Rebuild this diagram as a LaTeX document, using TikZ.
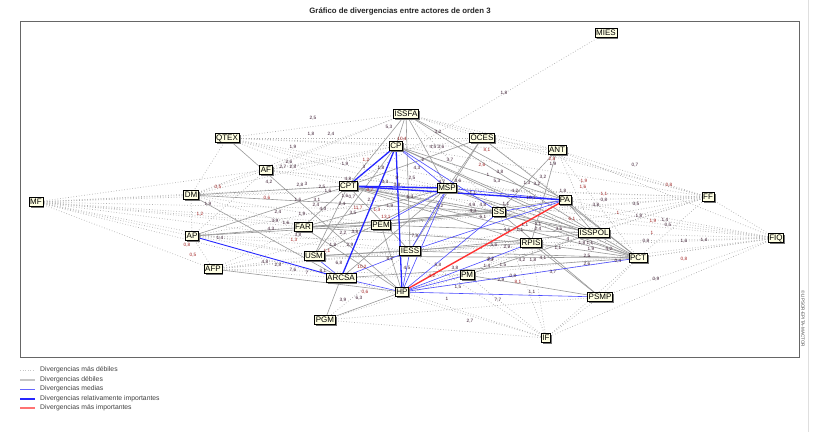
\documentclass[tikz,border=0pt]{standalone}
\usepackage{fontspec}
\setmainfont{Liberation Sans}
\usetikzlibrary{shadows}
\definecolor{nodefill}{HTML}{FFFFE4}
\definecolor{labc}{HTML}{3A1A30}
\definecolor{labr}{HTML}{A02020}
\begin{document}
\begin{tikzpicture}[x=1pt,y=-1pt,
 actor/.style={draw=black,line width=0.6pt,fill=nodefill,inner sep=1.1pt,
   font=\fontsize{8}{8}\selectfont,text height=6pt,text depth=0.6pt,
   drop shadow={shadow xshift=1.6pt,shadow yshift=-1.6pt,fill=black!55,opacity=1}},
 wk/.style={gray!62,dotted,line width=0.7pt},
 weak/.style={gray!80,line width=0.6pt},
 med/.style={blue!70,line width=0.6pt},
 rel/.style={blue!85,line width=1.3pt},
 top/.style={red!80,line width=1.4pt},
 lab/.style={font=\fontsize{4.7}{5}\selectfont,text=labc,inner sep=0pt},
 labR/.style={lab,text=labr},
 leg/.style={font=\fontsize{6.8}{7}\selectfont,text=black!75,anchor=west,inner sep=0pt}]
\newcommand\lb[3]{\node[lab] at (#1,#2) {#3};}
\newcommand\lr[3]{\node[labR] at (#1,#2) {#3};}
\useasboundingbox (0,0) rectangle (828,432);
\fill[white] (0,0) rectangle (828,432);
% title and frame
\node[font=\bfseries\fontsize{7.8}{8}\selectfont,text=black!85] (title) at (400,11) {Gráfico de divergencias entre actores de orden 3};
\draw[black!60,line width=1pt] (20,21) rectangle (799,357);
\draw[gray!25,line width=0.8pt] (808,0) -- (808,432);
\node[rotate=-90,font=\fontsize{4.6}{5}\selectfont,text=black!70] (copy) at (803,319) {©LIPSOR-EPITA-MACTOR};
% node coordinates
\path
 (606,33) coordinate (MIES) (227,138) coordinate (QTEX) (266,170) coordinate (AF)
 (191,195) coordinate (DM) (36,202) coordinate (MF) (192,236) coordinate (AP)
 (213,269) coordinate (AFP) (406,114) coordinate (ISSFA) (396,146) coordinate (CP)
 (482,138) coordinate (OCES) (557,150) coordinate (ANT) (348,186) coordinate (CPT)
 (447,188) coordinate (MSP) (499,212) coordinate (SS) (565,200) coordinate (PA)
 (708,197) coordinate (FF) (303,227) coordinate (FAR) (381,225) coordinate (PEM)
 (594,233) coordinate (ISSPOL) (531,243) coordinate (RPIS) (410,251) coordinate (IESS)
 (314,256) coordinate (USM) (638,258) coordinate (PCT) (776,238) coordinate (FIQ)
 (467,275) coordinate (PM) (341,278) coordinate (ARCSA) (402,292) coordinate (HP)
 (600,297) coordinate (PSMP) (325,320) coordinate (PGM) (546,338) coordinate (IF);
% weakest divergences
\foreach \a/\b in {MIES/CPT,
 MF/DM,MF/AP,MF/AF,MF/CPT,MF/FAR,MF/PEM,MF/USM,MF/SS,MF/IESS,MF/MSP,MF/ARCSA,MF/RPIS,MF/AFP,
 FF/ANT,FF/PA,FF/SS,FF/MSP,FF/CPT,FF/CP,FF/ISSPOL,FF/RPIS,FF/PCT,FF/IESS,FF/PEM,FF/HP,FF/ISSFA,FF/OCES,FF/FIQ,
 FIQ/PA,FIQ/ISSPOL,FIQ/PCT,FIQ/SS,FIQ/RPIS,FIQ/IESS,FIQ/HP,FIQ/PSMP,FIQ/PM,FIQ/IF,FIQ/ANT,FIQ/MSP,FIQ/CPT,
 IF/HP,IF/PM,IF/PSMP,IF/RPIS,IF/PGM,IF/ARCSA,IF/IESS,IF/PCT,IF/SS,
 QTEX/ISSFA,QTEX/CP,QTEX/OCES,QTEX/CPT,QTEX/MSP,QTEX/ANT,QTEX/DM,QTEX/PA,QTEX/SS,
 AF/ISSFA,AF/CP,AF/OCES,AF/MSP,AF/DM,AF/AP,AF/PA,AF/SS,
 DM/ISSFA,DM/CP,DM/AP,DM/MSP,DM/PEM,DM/FAR,
 AP/AFP,AP/FAR,AP/USM,AP/IESS,AP/MSP,AP/RPIS,
 AFP/ARCSA,AFP/USM,AFP/IESS,AFP/PEM,AFP/FAR,AFP/RPIS,AFP/PM,
 PGM/IESS,PGM/PM,PGM/PSMP,ISSFA/OCES,ISSFA/ANT,ISSFA/SS,
 ANT/ISSPOL,ANT/PCT,OCES/ANT,OCES/PA,PSMP/PCT,PM/RPIS,ARCSA/PM}
 \draw[wk] (\a) -- (\b);
% weak divergences
\foreach \a/\b in {QTEX/HP,DM/CPT,DM/ARCSA,DM/SS,AP/CPT,AP/PEM,AP/SS,AFP/HP,
 ISSFA/CP,ISSFA/CPT,ISSFA/MSP,ISSFA/PA,ISSFA/ISSPOL,ISSFA/IESS,
 OCES/MSP,OCES/IESS,OCES/CPT,OCES/PCT,ANT/SS,ANT/RPIS,
 CP/PA,CP/ISSPOL,CP/PCT,CP/USM,
 CPT/SS,CPT/RPIS,CPT/ISSPOL,CPT/USM,CPT/FAR,CPT/IESS,CPT/PCT,
 MSP/ISSPOL,MSP/PCT,MSP/USM,MSP/ARCSA,MSP/FAR,
 FAR/PEM,FAR/SS,FAR/HP,FAR/RPIS,PEM/SS,PEM/PA,PEM/HP,PEM/ISSPOL,
 USM/IESS,USM/RPIS,USM/PCT,IESS/ISSPOL,IESS/PCT,RPIS/PCT,RPIS/PSMP,
 SS/PCT,SS/PSMP,SS/ISSPOL,PA/ISSPOL,PA/PCT,ISSPOL/PCT,
 ARCSA/PGM,PGM/HP,ARCSA/PCT,PM/PSMP,PM/ISSPOL}
 \draw[weak] (\a) -- (\b);
% medium divergences
\foreach \a/\b in {CP/SS,CP/MSP,MSP/PA,SS/PA,IESS/PA,HP/SS,HP/RPIS,HP/PM,HP/PCT,HP/PSMP,
 HP/ARCSA,HP/IESS,USM/ARCSA,ARCSA/IESS,HP/MSP,MSP/IESS,PEM/MSP}
 \draw[med] (\a) -- (\b);
\draw[blue!85,line width=0.9pt] (AP) -- (ARCSA);
% relatively important
\foreach \a/\b in {CP/CPT,CP/ARCSA,CP/HP,CPT/MSP,CPT/PA}
 \draw[rel] (\a) -- (\b);
% most important
\draw[top] (HP) -- (PA);
% labels
\lb{504}{93}{1,8}
\lb{313}{118}{2,5}\lb{311}{134}{1,8}\lb{331}{134}{2,4}\lb{293}{147}{1,9}
\lb{289}{162}{2,6}\lb{283}{167}{2,7}\lb{293}{167}{2,8}\lb{345}{164}{1,9}
\lb{269}{182}{4,2}\lr{218}{187}{0,5}\lb{300}{185}{2,8}\lb{306}{184}{3}
\lb{322}{187}{2,5}\lb{328}{191}{1,6}\lr{267}{198}{0,6}\lb{298}{200}{1,6}
\lb{317}{200}{3,1}\lb{316}{205}{2,4}\lb{323}{209}{4,3}\lr{200}{214}{1,2}
\lb{208}{204}{1,9}\lb{302}{214}{1,9}\lb{348}{179}{4,8}\lb{342}{204}{2,4}
\lb{353}{213}{3,5}\lb{345}{196}{1,6}\lb{352}{197}{0,7}
\lb{389}{127}{5,3}\lr{402}{139}{10,4}\lb{438}{132}{3,2}\lb{433}{147}{4,5}
\lb{441}{147}{3,6}\lr{487}{150}{8,1}\lr{366}{160}{1,2}\lb{364}{167}{3}
\lb{381}{168}{1,8}\lb{417}{168}{4,3}\lb{423}{160}{2}\lb{450}{160}{3,7}
\lr{482}{165}{2,6}\lb{500}{172}{3,8}\lb{488}{175}{1}\lb{497}{181}{5,3}
\lb{412}{178}{2,5}\lb{397}{178}{8}\lb{385}{182}{3,3}\lb{397}{185}{3,8}
\lb{458}{181}{3,6}\lb{442}{182}{4,7}\lr{370}{190}{0,7}\lb{473}{193}{1,1}
\lb{515}{191}{4,2}\lb{527}{183}{1,3}\lb{537}{184}{3,2}\lb{543}{177}{3,2}
\lb{371}{200}{2,7}\lb{410}{197}{6,3}\lb{506}{204}{1,1}\lb{531}{198}{10,1}
\lb{472}{205}{4,9}\lb{390}{206}{1,9}\lr{358}{208}{11,7}\lr{377}{210}{1,3}
\lr{386}{217}{13,1}\lb{440}{206}{2,2}\lb{483}{205}{4,8}
\lr{552}{159}{2,8}\lb{553}{164}{1,9}\lb{563}{191}{1,8}\lr{584}{181}{1,9}
\lr{583}{187}{1,6}\lb{596}{205}{3,8}\lr{572}{219}{6,1}\lb{538}{224}{1,1}
\lb{538}{229}{2,4}\lb{559}{229}{3,6}\lb{507}{230}{4,6}\lb{520}{230}{1,1}
\lb{568}{239}{4}\lb{558}{248}{1,1}\lb{507}{247}{2,9}\lb{494}{245}{5,6}
\lb{491}{259}{3,2}\lb{522}{260}{4,2}\lb{533}{260}{1,8}\lb{543}{258}{4,1}
\lb{487}{266}{1,4}\lb{503}{265}{1,5}\lb{587}{256}{2,5}\lb{587}{264}{2,6}
\lb{609}{249}{4,2}\lb{591}{249}{1,9}\lb{582}{243}{1,8}\lb{590}{243}{1,1}
\lb{278}{212}{2,4}\lb{275}{221}{3,9}\lb{286}{223}{1,6}\lb{271}{229}{4,3}
\lb{220}{238}{1,4}\lb{298}{235}{3,8}\lr{294}{240}{1,3}\lb{343}{233}{2,2}
\lb{355}{232}{3,8}\lb{333}{245}{1,8}\lb{350}{245}{2,9}\lr{327}{251}{1,1}
\lb{339}{263}{6,8}\lr{362}{267}{10,2}\lb{390}{259}{8,2}\lb{265}{262}{4,8}
\lb{278}{265}{2,8}\lb{293}{270}{7,6}\lb{307}{273}{7}\lb{323}{271}{8,1}
\lr{365}{292}{0,6}\lb{343}{300}{3,9}\lb{359}{298}{6,3}\lb{415}{236}{7,8}
\lb{407}{268}{4,5}\lb{438}{265}{5,8}\lb{455}{268}{3,8}\lr{432}{276}{4,2}
\lb{458}{287}{1,5}\lb{447}{299}{1}\lb{498}{300}{7,7}\lb{470}{321}{2,7}
\lb{501}{280}{2,9}\lb{513}{276}{0,8}\lr{518}{282}{8,1}\lb{532}{292}{1,1}
\lb{490}{260}{3,3}\lb{525}{225}{1,1}\lb{483}{217}{6,1}\lb{473}{211}{4,3}
\lb{553}{272}{3,7}\lr{618}{213}{1}\lb{639}{216}{1,8}\lr{653}{221}{1,9}
\lb{665}{220}{1,4}\lb{668}{225}{0,5}\lr{652}{233}{1}\lb{646}{241}{0,8}
\lb{684}{241}{1,6}\lb{704}{240}{1,4}\lr{684}{259}{0,8}\lb{656}{279}{0,9}
\lb{618}{261}{0,4}\lb{635}{165}{0,7}\lr{669}{185}{0,8}\lr{604}{194}{1,1}
\lb{604}{200}{0,8}\lb{636}{204}{3,5}
\lr{187}{245}{0,8}\lr{193}{255}{0,5}
% actors
\foreach \n in {MIES,QTEX,AF,DM,MF,AP,AFP,ISSFA,CP,OCES,ANT,CPT,MSP,SS,PA,FF,FAR,PEM,
 ISSPOL,RPIS,IESS,USM,PCT,FIQ,PM,ARCSA,HP,PSMP,PGM,IF}
 \node[actor] (n\n) at (\n) {\n};
% legend
\draw[gray!45,dotted,line width=0.6pt] (20,370) -- (35,370);
\draw[gray!45,line width=1.2pt] (20,380) -- (35,380);
\draw[blue!60,line width=0.6pt] (20,389) -- (35,389);
\draw[blue!85,line width=1.2pt] (20,399) -- (35,399);
\draw[red!55,line width=1.2pt] (20,408) -- (35,408);
\node[leg] (l1) at (40,370) {Divergencias más débiles};
\node[leg] (l2) at (40,380) {Divergencias débiles};
\node[leg] (l3) at (40,389) {Divergencias medias};
\node[leg] (l4) at (40,399) {Divergencias relativamente importantes};
\node[leg] (l5) at (40,408) {Divergencias más importantes};
\end{tikzpicture}
\end{document}
